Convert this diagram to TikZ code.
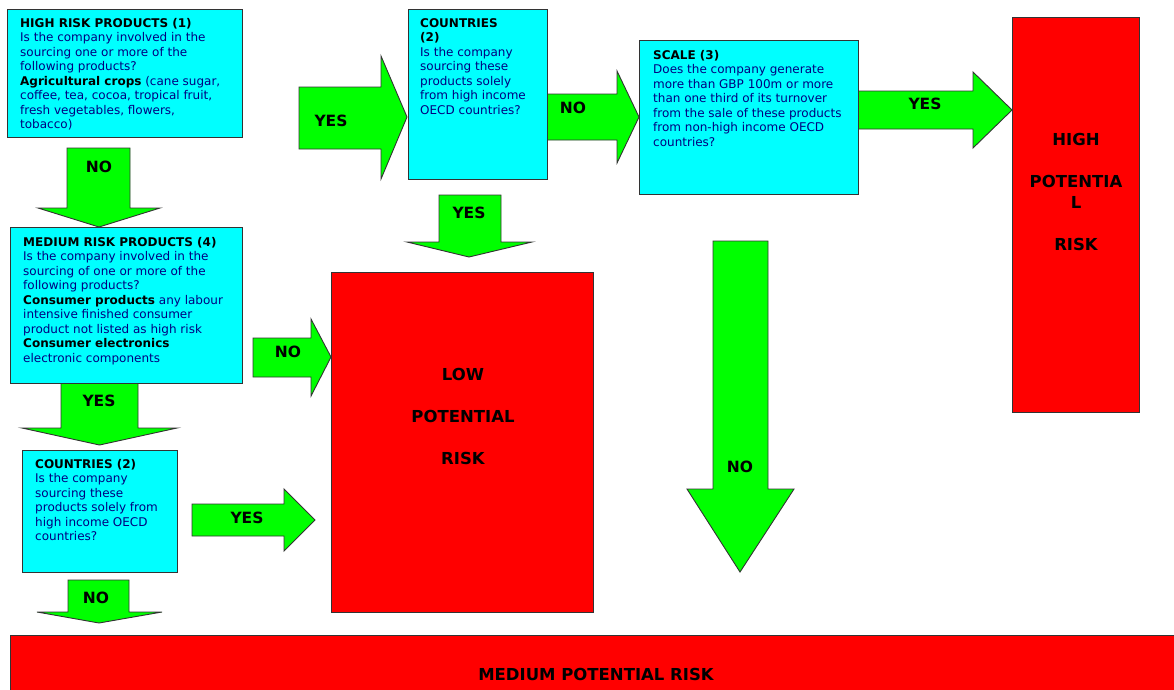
\documentclass[tikz,border=0pt]{standalone}
\usepackage{fontspec}
\setmainfont{DejaVu Sans}
\definecolor{qcyan}{HTML}{00FFFF}
\definecolor{qred}{HTML}{FF0000}
\definecolor{qgreen}{HTML}{00FF00}
\definecolor{qedge}{HTML}{333333}
\definecolor{bodycol}{HTML}{000080}
\tikzset{
  qbox/.style={draw=qedge, line width=1.3pt, fill=qcyan, anchor=north west, inner sep=0pt},
  riskbox/.style={draw=qedge, line width=1.3pt, fill=qred, anchor=north west, inner sep=0pt},
  qtext/.style={anchor=north west, inner sep=0pt, align=left, text=bodycol, font=\fontsize{12}{14.5}\selectfont},
  blockarrow/.style={draw=qedge, line width=0.9pt, fill=qgreen, line join=miter},
  arrowlabel/.style={inner sep=0pt, font=\fontsize{15.5}{18}\selectfont\bfseries},
  risklabel/.style={inner sep=0pt, align=center, font=\fontsize{16.5}{21}\selectfont\bfseries}
}
\newcommand{\hd}[1]{{\bfseries\color{black}#1}}
\begin{document}
\begin{tikzpicture}[x=1pt,y=-1pt]
\useasboundingbox (0,0) rectangle (1174,689);
\clip (0,0) rectangle (1174,689);
\fill[white] (0,0) rectangle (1174,689);

% block arrows
\draw[blockarrow] (67,148) -- (130,148) -- (130,208) -- (160,208) -- (99,227) -- (38,208) -- (67,208) -- cycle;
\draw[blockarrow] (61,383) -- (138,383) -- (138,428) -- (177,428) -- (99.5,445) -- (22,428) -- (61,428) -- cycle;
\draw[blockarrow] (299,87) -- (381,87) -- (381,56) -- (407,117) -- (381,179) -- (381,149) -- (299,149) -- cycle;
\draw[blockarrow] (547,94) -- (617,94) -- (617,71) -- (639,117) -- (617,163) -- (617,140) -- (547,140) -- cycle;
\draw[blockarrow] (439,195) -- (501,195) -- (501,242) -- (532,242) -- (469,257) -- (407,242) -- (439,242) -- cycle;
\draw[blockarrow] (253,338) -- (311,338) -- (311,319) -- (331,357) -- (311,396) -- (311,377) -- (253,377) -- cycle;
\draw[blockarrow] (192,504) -- (284,504) -- (284,489) -- (315,520) -- (284,551) -- (284,536) -- (192,536) -- cycle;
\draw[blockarrow] (713,241) -- (768,241) -- (768,489) -- (794,489) -- (740,572) -- (687,489) -- (713,489) -- cycle;
\draw[blockarrow] (858,91) -- (973,91) -- (973,72) -- (1012,110) -- (973,148) -- (973,129) -- (858,129) -- cycle;
\draw[blockarrow] (68,580) -- (129,580) -- (129,612) -- (162,612) -- (99,623) -- (37,612) -- (68,612) -- cycle;

% arrow labels
\node[arrowlabel] (l1) at (99,167) {NO};
\node[arrowlabel] (l2) at (99,401) {YES};
\node[arrowlabel] (l3) at (331,121) {YES};
\node[arrowlabel] (l4) at (573,108) {NO};
\node[arrowlabel] (l5) at (469,213) {YES};
\node[arrowlabel] (l6) at (288,352) {NO};
\node[arrowlabel] (l7) at (247,518) {YES};
\node[arrowlabel] (l8) at (740,467) {NO};
\node[arrowlabel] (l9) at (925,104) {YES};
\node[arrowlabel] (l10) at (96,598) {NO};

% question boxes
\node[qbox, minimum width=235pt, minimum height=128pt] (hr) at (7,9) {};
\node[qtext] (hrt) at (20,18) {\hd{HIGH RISK PRODUCTS (1)}\\Is the company involved in the\\sourcing one or more of the\\following products?\\\hd{Agricultural crops} (cane sugar,\\coffee, tea, cocoa, tropical fruit,\\fresh vegetables, flowers,\\tobacco)};

\node[qbox, minimum width=139pt, minimum height=170pt] (c1) at (408,9) {};
\node[qtext] (c1t) at (420,18) {\hd{COUNTRIES}\\\hd{(2)}\\Is the company\\sourcing these\\products solely\\from high income\\OECD countries?};

\node[qbox, minimum width=219pt, minimum height=154pt] (sc) at (639,40) {};
\node[qtext] (sct) at (653,50) {\hd{SCALE (3)}\\Does the company generate\\more than GBP 100m or more\\than one third of its turnover\\from the sale of these products\\from non-high income OECD\\countries?};

\node[qbox, minimum width=232pt, minimum height=156pt] (mr) at (10,227) {};
\node[qtext] (mrt) at (23,237) {\hd{MEDIUM RISK PRODUCTS (4)}\\Is the company involved in the\\sourcing of one or more of the\\following products?\\\hd{Consumer products} any labour\\intensive finished consumer\\product not listed as high risk\\\hd{Consumer electronics}\\electronic components};

\node[qbox, minimum width=155pt, minimum height=122pt] (c2) at (22,450) {};
\node[qtext] (c2t) at (35,459) {\hd{COUNTRIES (2)}\\Is the company\\sourcing these\\products solely from\\high income OECD\\countries?};

% risk boxes
\node[riskbox, minimum width=127pt, minimum height=395pt] (hi) at (1012,17) {};
\node[risklabel] (hit) at (1076,192) {HIGH\\[21pt]POTENTIA\\L\\[21pt]RISK};

\node[riskbox, minimum width=262pt, minimum height=340pt] (lo) at (331,272) {};
\node[risklabel] (lot) at (463,416) {LOW\\[21pt]POTENTIAL\\[21pt]RISK};

\node[riskbox, minimum width=1190pt, minimum height=80pt] (me) at (10,635) {};
\node[risklabel] (met) at (596,674) {MEDIUM POTENTIAL RISK};
\end{tikzpicture}
\end{document}
